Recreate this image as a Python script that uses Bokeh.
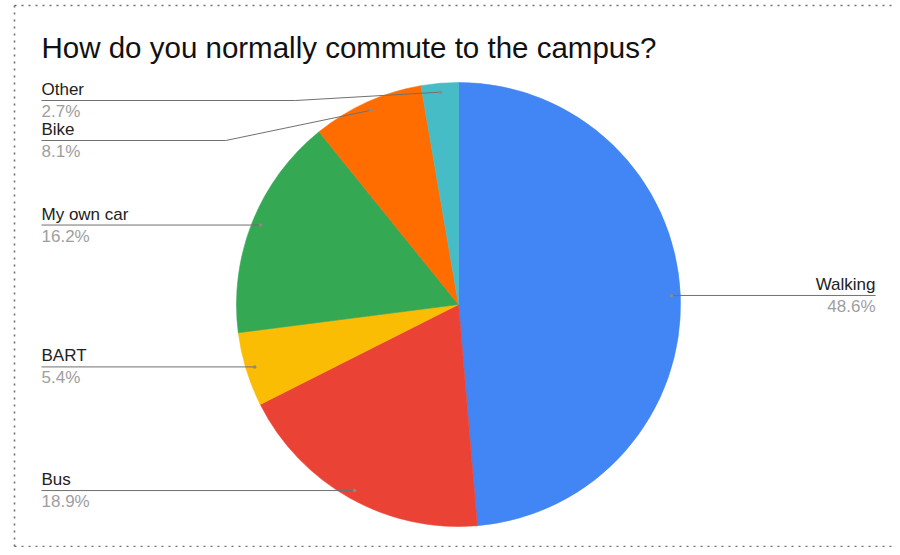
import math
from bokeh.plotting import figure
from bokeh.models import Range1d
from bokeh.core.properties import value
from bokeh.embed import file_html
from bokeh.resources import INLINE

title = "How do you normally commute to the campus?"
categories = ["Walking", "Bus", "BART", "My own car", "Bike", "Other"]
counts = [18, 7, 2, 6, 3, 1]
colors = ["#4285F4", "#EA4335", "#FBBC04", "#34A853", "#FF6D01", "#46BDC6"]

FONT = value("Liberation Sans")
W, H = 892, 547
# page pixel -> data coordinate helpers
def px(X):
    return X
def py(Y):
    return H - Y

p = figure(width=W, height=H, x_range=Range1d(0, W), y_range=Range1d(0, H),
           output_backend="svg", toolbar_location=None,
           x_axis_type=None, y_axis_type=None, min_border=0)
p.grid.visible = False
p.outline_line_color = None
p.background_fill_color = "white"
p.border_fill_color = "white"

# dotted frame
frame_col = "#6f6f6f"
top_y, bot_y = py(5), 1
p.line(x=[px(14), px(14)], y=[bot_y, top_y], line_color=frame_col, line_width=1.6, line_dash="2 5")
p.line(x=[px(14), W], y=[top_y, top_y], line_color=frame_col, line_width=1.6, line_dash="2 5")
p.line(x=[px(14), W], y=[bot_y, bot_y], line_color=frame_col, line_width=1.6, line_dash="2 5")

TSHIFT_TITLE = 8
TSHIFT = 6

# title
p.text(x=[px(41)], y=[py(55) + TSHIFT_TITLE], text=[title], text_font=FONT, text_font_size="29.5px",
       text_color="#111111", text_baseline="alphabetic", text_align="left")

# pie
cx, cy, R = px(458), py(304), 222
total = sum(counts)
starts, ends, mids = [], [], []
cum = 0
for c in counts:
    a0 = math.pi / 2 - 2 * math.pi * cum / total
    cum += c
    a1 = math.pi / 2 - 2 * math.pi * cum / total
    starts.append(a1)
    ends.append(a0)
    mids.append((a0 + a1) / 2)

p.wedge(x=[cx] * len(counts), y=[cy] * len(counts), radius=R,
        start_angle=starts, end_angle=ends, direction="anticlock",
        fill_color=colors, line_color=colors, line_width=0.6)

# labels
pct_text = [f"{100 * c / total:.1f}%" for c in counts]
ar = 0.96 * R
anchors = [(cx + ar * math.cos(m), cy + ar * math.sin(m)) for m in mids]

left_idx = [i for i in range(len(counts)) if anchors[i][0] < cx]
right_idx = [i for i in range(len(counts)) if anchors[i][0] >= cx]

label_y = {}
left_sorted = sorted(left_idx, key=lambda i: -anchors[i][1])
prev = None
for i in left_sorted:
    y = min(anchors[i][1], py(100))
    if prev is not None:
        y = min(y, prev - 40)
    label_y[i] = y
    prev = y
for i in right_idx:
    label_y[i] = anchors[i][1]

line_xs, line_ys = [], []
name_x, name_y, name_t, pct_x, pct_y, pct_t = [], [], [], [], [], []
rname_x, rname_y, rname_t, rpct_x, rpct_y, rpct_t = [], [], [], [], [], []
LX = px(41)
RX = px(875)
for i in range(len(counts)):
    ax, ay = anchors[i]
    ly = label_y[i]
    if i in left_idx:
        if abs(ly - ay) < 1.5:
            line_xs.append([LX, ax]); line_ys.append([ly, ay])
        else:
            ex = ax - 145
            line_xs.append([LX, ex, ax]); line_ys.append([ly, ly, ay])
        name_x.append(LX); name_y.append(ly + 5 + TSHIFT); name_t.append(categories[i])
        pct_x.append(LX); pct_y.append(ly - 17 + TSHIFT); pct_t.append(pct_text[i])
    else:
        line_xs.append([ax, RX]); line_ys.append([ay, ly])
        rname_x.append(RX); rname_y.append(ly + 5 + TSHIFT); rname_t.append(categories[i])
        rpct_x.append(RX); rpct_y.append(ly - 17 + TSHIFT); rpct_t.append(pct_text[i])

p.multi_line(xs=line_xs, ys=line_ys, line_color="#707070", line_width=1)
p.scatter(x=[a[0] for a in anchors], y=[a[1] for a in anchors], size=3.5,
          fill_color="#8a8a8a", line_color=None)

p.text(x=name_x, y=name_y, text=name_t, text_font=FONT, text_font_size="17px",
       text_color="#222222", text_baseline="alphabetic", text_align="left")
p.text(x=pct_x, y=pct_y, text=pct_t, text_font=FONT, text_font_size="17px",
       text_color="#9e9e9e", text_baseline="alphabetic", text_align="left")
p.text(x=rname_x, y=rname_y, text=rname_t, text_font=FONT, text_font_size="17px",
       text_color="#222222", text_baseline="alphabetic", text_align="right")
p.text(x=rpct_x, y=rpct_y, text=rpct_t, text_font=FONT, text_font_size="17px",
       text_color="#9e9e9e", text_baseline="alphabetic", text_align="right")

open("out.html", "w").write(file_html(p, INLINE))
